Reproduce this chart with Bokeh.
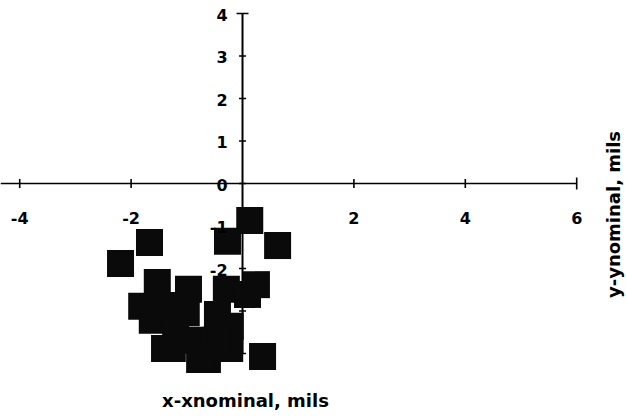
import math

from bokeh.core.properties import value
from bokeh.embed import file_html
from bokeh.models import Label
from bokeh.plotting import figure
from bokeh.resources import INLINE

# Measured deviation of each hole from its nominal position, in mils
dx = [0.13, -0.27, 0.63, -1.67, -2.19, 0.36,
      -0.29, 0.25, 0.09, -0.45, -0.22, -0.23, -0.63, -0.48,
      -1.53, -0.97, -1.81, -1.38, -1.01, -1.62, -1.20, -1.40, -1.26, -0.88, -0.77]
dy = [-0.87, -1.36, -1.46, -1.39, -1.88, -4.07,
      -2.49, -2.38, -2.61, -3.08, -3.36, -3.88, -4.14, -3.69,
      -2.33, -2.49, -2.89, -2.87, -3.04, -3.22, -3.41, -3.88, -3.88, -3.69, -4.14]

# Axis ticks and their labels
x_ticks = [-4, -2, 2, 4, 6]
x_tick_labels = ["-4", "-2", "2", "4", "6"]
y_ticks = [-4, -3, -2, -1, 0, 1, 2, 3, 4]
y_tick_labels = ["-4", "-3", "-2", "-1", "0", "1", "2", "3", "4"]

x_title = "x-xnominal, mils"
y_title = "y-ynominal, mils"

X_MIN, X_MAX = -4.345, 6.894
Y_MIN, Y_MAX = -5.553, 4.306

FONT_NAME = "DejaVu Sans"
FONT = value(FONT_NAME)

p = figure(
    width=626, height=419,
    x_range=(X_MIN, X_MAX), y_range=(Y_MIN, Y_MAX),
    x_axis_location=None, y_axis_location=None,
    toolbar_location=None, output_backend="svg",
    min_border=0,
)
p.outline_line_color = None
p.xgrid.visible = False
p.ygrid.visible = False
p.background_fill_color = "white"
p.border_fill_color = "white"

# Axes crossing at the origin
p.line([X_MIN, x_ticks[-1]], [0, 0], line_color="black", line_width=1.6)
p.line([0, 0], [y_ticks[0], y_ticks[-1]], line_color="black", line_width=2)

# Tick marks: small crossing dashes, with wider caps at the axis ends
p.scatter(x_ticks[:-1], [0] * (len(x_ticks) - 1), marker="dash", angle=math.pi / 2,
          size=9, line_color="black", line_width=1.6)
p.scatter([x_ticks[-1]], [0], marker="dash", angle=math.pi / 2,
          size=12, line_color="black", line_width=1.6)
p.scatter([0] * (len(y_ticks) - 1), y_ticks[:-1], marker="dash",
          size=7, line_color="black", line_width=1.6)
p.scatter([0], [y_ticks[-1]], marker="dash",
          size=12, line_color="black", line_width=1.6)

label_style = dict(text_font=FONT, text_font_style="bold",
                   text_font_size="16px", text_color="black")
y_label_style = dict(text_align="right", text_baseline="middle",
                     x_offset=-15, y_offset=1, **label_style)

# The lowest y labels sit beneath the point cloud
n_under = 2
p.text([0] * n_under, y_ticks[:n_under], text=y_tick_labels[:n_under], **y_label_style)

# Data points as solid squares
p.scatter(dx, dy, marker="square", size=27,
          fill_color="#0a0a0a", line_color=None)

# Remaining tick labels, drawn over the squares
p.text(x_ticks, [0] * len(x_ticks), text=x_tick_labels,
       text_align="center", text_baseline="middle", y_offset=34, **label_style)
p.text([0] * (len(y_ticks) - n_under), y_ticks[n_under:],
       text=y_tick_labels[n_under:], **y_label_style)

# Axis titles
p.add_layout(Label(x=245, y=19, x_units="screen", y_units="screen",
                   text=x_title, text_align="center", text_baseline="middle",
                   text_font=FONT_NAME, text_font_style="bold",
                   text_font_size="18px", text_color="black"))
p.add_layout(Label(x=613, y=205, x_units="screen", y_units="screen",
                   text=y_title, angle=math.pi / 2,
                   text_align="center", text_baseline="middle",
                   text_font=FONT_NAME, text_font_style="bold",
                   text_font_size="18px", text_color="black"))

open("out.html", "w").write(file_html(p, INLINE))
